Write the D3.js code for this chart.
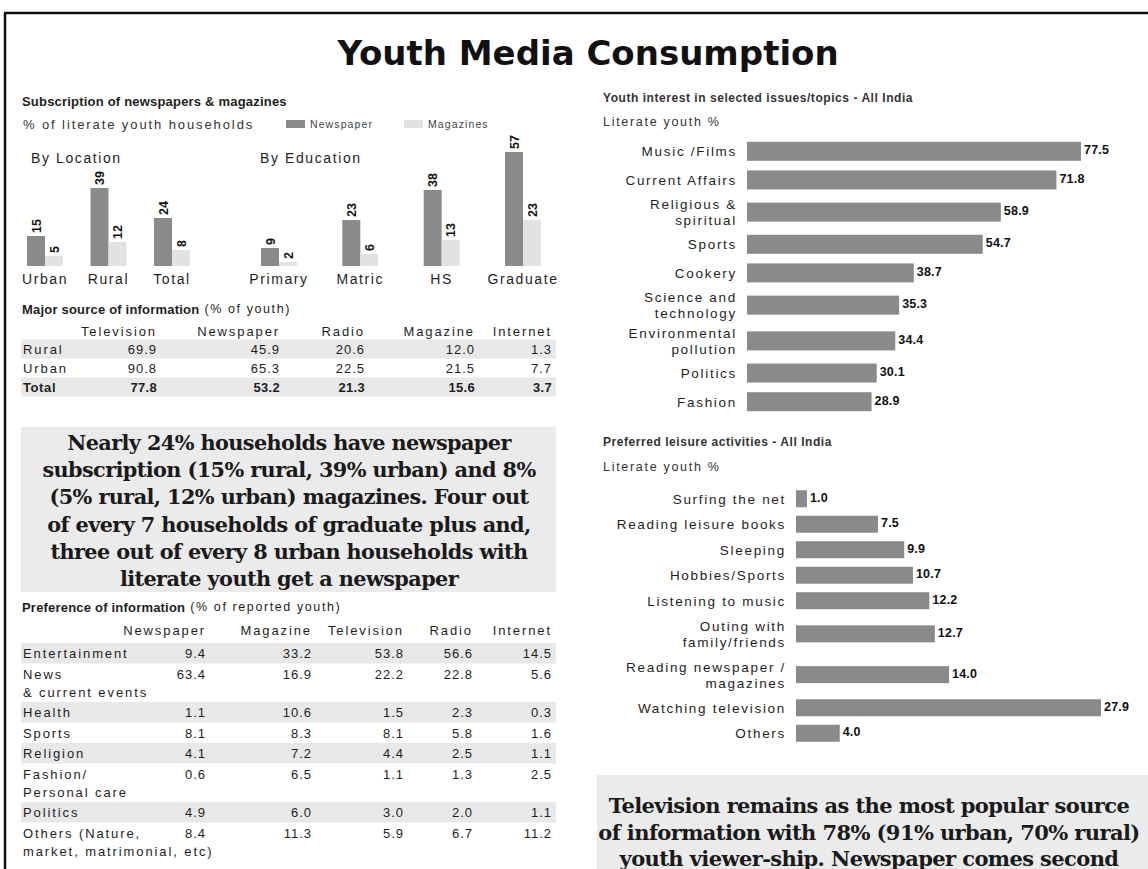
<!DOCTYPE html>
<html>
<head>
<meta charset="utf-8">
<script src="https://cdn.jsdelivr.net/npm/d3@7/dist/d3.min.js"></script>
<style>
  html, body { margin: 0; padding: 0; background: #fff; }
  svg { display: block; }
</style>
</head>
<body>
<div id="chart"></div>
<script>
const subLocations = ['Urban', 'Rural', 'Total'];
const subLocNewspaper = [15, 39, 24];
const subLocMagazine = [5, 12, 8];
const subEducation = ['Primary', 'Matric', 'HS', 'Graduate'];
const subEduNewspaper = [9, 23, 38, 57];
const subEduMagazine = [2, 6, 13, 23];

const sourceCols = ['Television', 'Newspaper', 'Radio', 'Magazine', 'Internet'];
const sourceRows = ['Rural', 'Urban', 'Total'];
const sourceRural = [69.9, 45.9, 20.6, 12.0, 1.3];
const sourceUrban = [90.8, 65.3, 22.5, 21.5, 7.7];
const sourceTotal = [77.8, 53.2, 21.3, 15.6, 3.7];

const prefCols = ['Newspaper', 'Magazine', 'Television', 'Radio', 'Internet'];
const prefTopics = ['Entertainment', 'News\n& current events', 'Health', 'Sports', 'Religion',
  'Fashion/\nPersonal care', 'Politics', 'Others (Nature,\nmarket, matrimonial, etc)'];
const prefNewspaper = [9.4, 63.4, 1.1, 8.1, 4.1, 0.6, 4.9, 8.4];
const prefMagazine = [33.2, 16.9, 10.6, 8.3, 7.2, 6.5, 6.0, 11.3];
const prefTelevision = [53.8, 22.2, 1.5, 8.1, 4.4, 1.1, 3.0, 5.9];
const prefRadio = [56.6, 22.8, 2.3, 5.8, 2.5, 1.3, 2.0, 6.7];
const prefInternet = [14.5, 5.6, 0.3, 1.6, 1.1, 2.5, 1.1, 11.2];

const interestTopics = ['Music /Films', 'Current Affairs', 'Religious &\nspiritual', 'Sports', 'Cookery',
  'Science and\ntechnology', 'Environmental\npollution', 'Politics', 'Fashion'];
const interestValues = [77.5, 71.8, 58.9, 54.7, 38.7, 35.3, 34.4, 30.1, 28.9];

const leisureActivities = ['Surfing the net', 'Reading leisure books', 'Sleeping', 'Hobbies/Sports',
  'Listening to music', 'Outing with\nfamily/friends', 'Reading newspaper /\nmagazines',
  'Watching television', 'Others'];
const leisureValues = [1.0, 7.5, 9.9, 10.7, 12.2, 12.7, 14.0, 27.9, 4.0];

const calloutLeft = ['Nearly 24% households have newspaper',
  'subscription (15% rural, 39% urban) and 8%',
  '(5% rural, 12% urban) magazines. Four out',
  'of every 7 households of graduate plus and,',
  'three out of every 8 urban households with',
  'literate youth get a newspaper'];
const calloutRight = ['Television remains as the most popular source',
  'of information with 78% (91% urban, 70% rural)',
  'youth viewer-ship. Newspaper comes second'];

// ---- look ----
const SANS = '"Liberation Sans", Arial, sans-serif';
const SERIF = '"DejaVu Serif", "Liberation Serif", serif';
const DARK = '#8a8a8a', LIGHT = '#e2e2e2', BAND = '#e8e8e8', INK = '#1e1e1e';
const fmt = d3.format('.1f');

const width = 1148, height = 869;
const svg = d3.select('#chart').append('svg')
  .attr('width', width).attr('height', height);
svg.append('rect').attr('width', width).attr('height', height).attr('fill', '#fff');

function label(g, x, y, str, o = {}) {
  const lines = String(str).split('\n');
  const lh = o.lh || 17;
  const t = g.append('text')
    .attr('x', x).attr('y', y)
    .attr('font-family', o.family || SANS)
    .attr('font-size', o.size || 13)
    .attr('font-weight', o.weight || 'normal')
    .attr('letter-spacing', o.ls == null ? 0 : o.ls)
    .attr('text-anchor', o.anchor || 'start')
    .attr('fill', o.fill || INK)
    .attr('dominant-baseline', 'central');
  const first = o.center ? -(lines.length - 1) * lh / 2 : 0;
  lines.forEach((ln, i) => t.append('tspan').attr('x', x)
    .attr('dy', i === 0 ? first : lh).text(ln));
  return t;
}

function heading(g, x, y, bold, rest) {
  const t = g.append('text').attr('x', x).attr('y', y)
    .attr('font-family', SANS).attr('fill', INK).attr('dominant-baseline', 'central');
  t.append('tspan').attr('font-weight', 'bold').attr('font-size', 13).attr('letter-spacing', 0.2).text(bold);
  if (rest) t.append('tspan').attr('font-size', 12.5).attr('letter-spacing', 1.6).text(rest);
}

// frame + title
svg.append('line').attr('x1', 4).attr('x2', width).attr('y1', 13).attr('y2', 13)
  .attr('stroke', '#111').attr('stroke-width', 2.5);
svg.append('line').attr('x1', 5).attr('x2', 5).attr('y1', 13).attr('y2', height)
  .attr('stroke', '#111').attr('stroke-width', 2.5);
svg.append('text').attr('x', 588).attr('y', 65)
  .attr('text-anchor', 'middle')
  .attr('font-family', '"DejaVu Sans", sans-serif').attr('font-weight', 'bold')
  .attr('font-size', 34).attr('fill', '#111')
  .text('Youth Media Consumption');

// ---- subscription bars ----
const sub = svg.append('g').attr('class', 'subscription');
heading(sub, 22, 101, 'Subscription of newspapers & magazines');
label(sub, 23, 124, '% of literate youth households', { size: 13, ls: 1.9, fill: '#333' });
sub.append('rect').attr('x', 286).attr('y', 120).attr('width', 19).attr('height', 8).attr('fill', DARK);
label(sub, 310, 124, 'Newspaper', { size: 10.5, ls: 1.1, fill: '#444' });
sub.append('rect').attr('x', 404).attr('y', 120).attr('width', 19).attr('height', 8).attr('fill', LIGHT);
label(sub, 428, 124, 'Magazines', { size: 10.5, ls: 1.1, fill: '#444' });
label(sub, 31, 158, 'By Location', { size: 14, ls: 1.6 });
label(sub, 260, 158, 'By Education', { size: 14, ls: 1.6 });

const y = d3.scaleLinear().domain([0, 60]).range([266, 146]);
const barW = 18;
const xLoc = d3.scalePoint().domain(subLocations).range([45, 172]);
const xEdu = d3.scalePoint().domain(subEducation).range([279, 523]);

function groupBars(cats, xs, news, mags) {
  const rows = [];
  cats.forEach((c, i) => {
    rows.push({ cat: c, key: 'n', value: news[i], x: xs(c) - barW, fill: DARK });
    rows.push({ cat: c, key: 'm', value: mags[i], x: xs(c), fill: LIGHT });
  });
  sub.selectAll(null).data(rows).enter().append('rect')
    .attr('x', d => d.x).attr('width', barW)
    .attr('y', d => y(d.value)).attr('height', d => y(0) - y(d.value))
    .attr('fill', d => d.fill);
  sub.selectAll(null).data(rows).enter().append('text')
    .attr('transform', d => `translate(${d.x + barW / 2},${y(d.value) - 3}) rotate(-90)`)
    .attr('dy', '0.36em')
    .attr('font-family', SANS).attr('font-weight', 'bold').attr('font-size', 12.5)
    .attr('fill', '#111')
    .text(d => d.value);
  cats.forEach(c => label(sub, xs(c), 279, c, { size: 14, ls: 1.6, anchor: 'middle' }));
}
groupBars(subLocations, xLoc, subLocNewspaper, subLocMagazine);
groupBars(subEducation, xEdu, subEduNewspaper, subEduMagazine);

// ---- tables ----
function table(g, opt) {
  const { cols, colEdges, rows, values, headerY, top, rowH, extra, bandIdx, boldLast } = opt;
  cols.forEach((c, j) => label(g, colEdges[j], headerY, c, { size: 13, ls: 1.9, anchor: 'end' }));
  let cur = top;
  rows.forEach((r, i) => {
    const n = r.split('\n').length;
    const h = rowH + extra * (n - 1);
    if (bandIdx(i)) g.append('rect').attr('x', 21).attr('y', cur).attr('width', 535).attr('height', h).attr('fill', BAND);
    const cy = cur + rowH / 2;
    const bold = boldLast && i === rows.length - 1;
    label(g, 23, cy, r, { size: 13, ls: bold ? 0.6 : 1.9, lh: extra, weight: bold ? 'bold' : 'normal' });
    values.forEach((col, j) => label(g, colEdges[j], cy, fmt(col[i]),
      { size: 13, ls: bold ? 0.3 : 1.0, anchor: 'end', weight: bold ? 'bold' : 'normal' }));
    cur += h;
  });
}

const src = svg.append('g').attr('class', 'source');
heading(src, 22, 309, 'Major source of information', ' (% of youth)');
table(src, {
  cols: sourceCols, colEdges: [157, 280, 365, 475, 552],
  rows: sourceRows, values: [0, 1, 2, 3, 4].map(j => [sourceRural[j], sourceUrban[j], sourceTotal[j]]),
  headerY: 331, top: 339.5, rowH: 19, extra: 17,
  bandIdx: i => i !== 1, boldLast: true
});

const pref = svg.append('g').attr('class', 'preference');
heading(pref, 22, 607, 'Preference of information', '  (% of reported youth)');
table(pref, {
  cols: prefCols, colEdges: [206, 312, 404, 473, 552],
  rows: prefTopics, values: [prefNewspaper, prefMagazine, prefTelevision, prefRadio, prefInternet],
  headerY: 630, top: 643, rowH: 20.5, extra: 18,
  bandIdx: i => i % 2 === 0, boldLast: false
});

// ---- callouts ----
function callout(x, yTop, w, h, lines, cx, firstY, lh, size) {
  svg.append('rect').attr('x', x).attr('y', yTop).attr('width', w).attr('height', h).attr('fill', '#ebebeb');
  lines.forEach((ln, i) => label(svg, cx, firstY + i * lh, ln,
    { family: SERIF, size: size, weight: 'bold', anchor: 'middle', ls: -0.6, fill: '#1a1a1a' }));
}
callout(21, 427, 535, 165, calloutLeft, 289, 442, 27.2, 20.8);
callout(597, 775, 560, 100, calloutRight, 869, 805, 26.5, 21);

// ---- horizontal bar charts ----
function hbars(g, cats, vals, o) {
  const weights = cats.map(c => 1 + o.dbl * (c.split('\n').length - 1));
  const cum = d3.cumsum(weights);
  const total = cum[cum.length - 1];
  const ys = d3.scaleLinear().domain([0, total]).range(o.yRange);
  const xs = d3.scaleLinear().domain(o.domain).range(o.xRange);
  const rows = cats.map((c, i) => ({ cat: c, value: vals[i], cy: ys(cum[i] - weights[i] / 2) }));
  g.selectAll(null).data(rows).enter().append('rect')
    .attr('x', xs(0)).attr('y', d => d.cy - o.barH / 2)
    .attr('width', d => xs(d.value) - xs(0)).attr('height', o.barH)
    .attr('fill', DARK);
  g.selectAll(null).data(rows).enter().append('text')
    .attr('x', d => xs(d.value) + 3).attr('y', d => d.cy - 1)
    .attr('dominant-baseline', 'central')
    .attr('font-family', SANS).attr('font-weight', 'bold').attr('font-size', 12.5)
    .attr('letter-spacing', 0.2).attr('fill', '#111')
    .text(d => fmt(d.value));
  rows.forEach(d => label(g, o.labelX, d.cy, d.cat,
    { size: 13.5, ls: 1.7, anchor: 'end', center: true, lh: 16 }));
}

const interest = svg.append('g').attr('class', 'interest');
label(interest, 603, 98, 'Youth interest in selected issues/topics - All India', { size: 12, weight: 'bold', ls: 0.55, fill: '#333' });
label(interest, 603, 122, 'Literate youth %', { size: 12.5, ls: 1.7, fill: '#333' });
hbars(interest, interestTopics, interestValues, {
  dbl: 0.25, yRange: [137, 416], domain: [0, 77.5], xRange: [747, 1081],
  barH: 19, labelX: 737
});

const leisure = svg.append('g').attr('class', 'leisure');
label(leisure, 603, 442, 'Preferred leisure activities - All India', { size: 12, weight: 'bold', ls: 0.55, fill: '#333' });
label(leisure, 603, 467, 'Literate youth %', { size: 12.5, ls: 1.7, fill: '#333' });
hbars(leisure, leisureActivities, leisureValues, {
  dbl: 0.6, yRange: [486, 746], domain: [0, 27.9], xRange: [796, 1101],
  barH: 17, labelX: 786
});
</script>
</body>
</html>
